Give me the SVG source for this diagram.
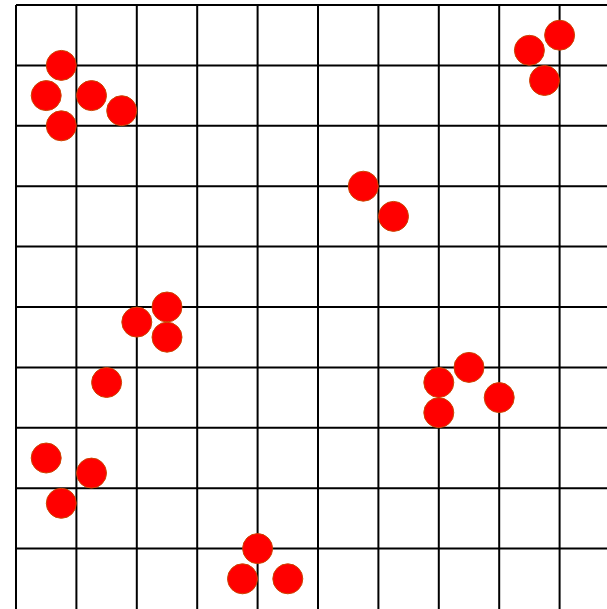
<svg xmlns="http://www.w3.org/2000/svg" width="607" height="609" viewBox="0 0 607 609">
<defs>
<style>
.g line{stroke:#000;stroke-width:2}
.c{fill:#ff0000;stroke:#cc4400;stroke-width:1}
</style>
</defs>
<rect x="0" y="0" width="607" height="609" fill="#fff"/>
<g class="g" id="grid">
<line x1="16" y1="5" x2="16" y2="609"/>
<line x1="76.4" y1="5" x2="76.4" y2="609"/>
<line x1="136.8" y1="5" x2="136.8" y2="609"/>
<line x1="197.2" y1="5" x2="197.2" y2="609"/>
<line x1="257.6" y1="5" x2="257.6" y2="609"/>
<line x1="318" y1="5" x2="318" y2="609"/>
<line x1="378.4" y1="5" x2="378.4" y2="609"/>
<line x1="438.8" y1="5" x2="438.8" y2="609"/>
<line x1="499.2" y1="5" x2="499.2" y2="609"/>
<line x1="559.6" y1="5" x2="559.6" y2="609"/>
<line x1="16" y1="5" x2="607" y2="5"/>
<line x1="16" y1="65.4" x2="607" y2="65.4"/>
<line x1="16" y1="125.8" x2="607" y2="125.8"/>
<line x1="16" y1="186.2" x2="607" y2="186.2"/>
<line x1="16" y1="246.6" x2="607" y2="246.6"/>
<line x1="16" y1="307" x2="607" y2="307"/>
<line x1="16" y1="367.4" x2="607" y2="367.4"/>
<line x1="16" y1="427.8" x2="607" y2="427.8"/>
<line x1="16" y1="488.2" x2="607" y2="488.2"/>
<line x1="16" y1="548.6" x2="607" y2="548.6"/>
</g>
<g id="dots">
<circle class="c" cx="61.3" cy="65.4" r="15"/>
<circle class="c" cx="46.2" cy="95.6" r="15"/>
<circle class="c" cx="91.5" cy="95.6" r="15"/>
<circle class="c" cx="121.7" cy="110.7" r="15"/>
<circle class="c" cx="61.3" cy="125.8" r="15"/>
<circle class="c" cx="529.4" cy="50.3" r="15"/>
<circle class="c" cx="559.6" cy="35.2" r="15"/>
<circle class="c" cx="544.5" cy="80.5" r="15"/>
<circle class="c" cx="363.3" cy="186.2" r="15"/>
<circle class="c" cx="393.5" cy="216.4" r="15"/>
<circle class="c" cx="167" cy="307" r="15"/>
<circle class="c" cx="136.8" cy="322.1" r="15"/>
<circle class="c" cx="167" cy="337.2" r="15"/>
<circle class="c" cx="106.6" cy="382.5" r="15"/>
<circle class="c" cx="469" cy="367.4" r="15"/>
<circle class="c" cx="438.8" cy="382.5" r="15"/>
<circle class="c" cx="499.2" cy="397.6" r="15"/>
<circle class="c" cx="438.8" cy="412.7" r="15"/>
<circle class="c" cx="46.2" cy="458" r="15"/>
<circle class="c" cx="91.5" cy="473.1" r="15"/>
<circle class="c" cx="61.3" cy="503.3" r="15"/>
<circle class="c" cx="257.6" cy="548.6" r="15"/>
<circle class="c" cx="242.5" cy="578.8" r="15"/>
<circle class="c" cx="287.8" cy="578.8" r="15"/>
</g>
</svg>
